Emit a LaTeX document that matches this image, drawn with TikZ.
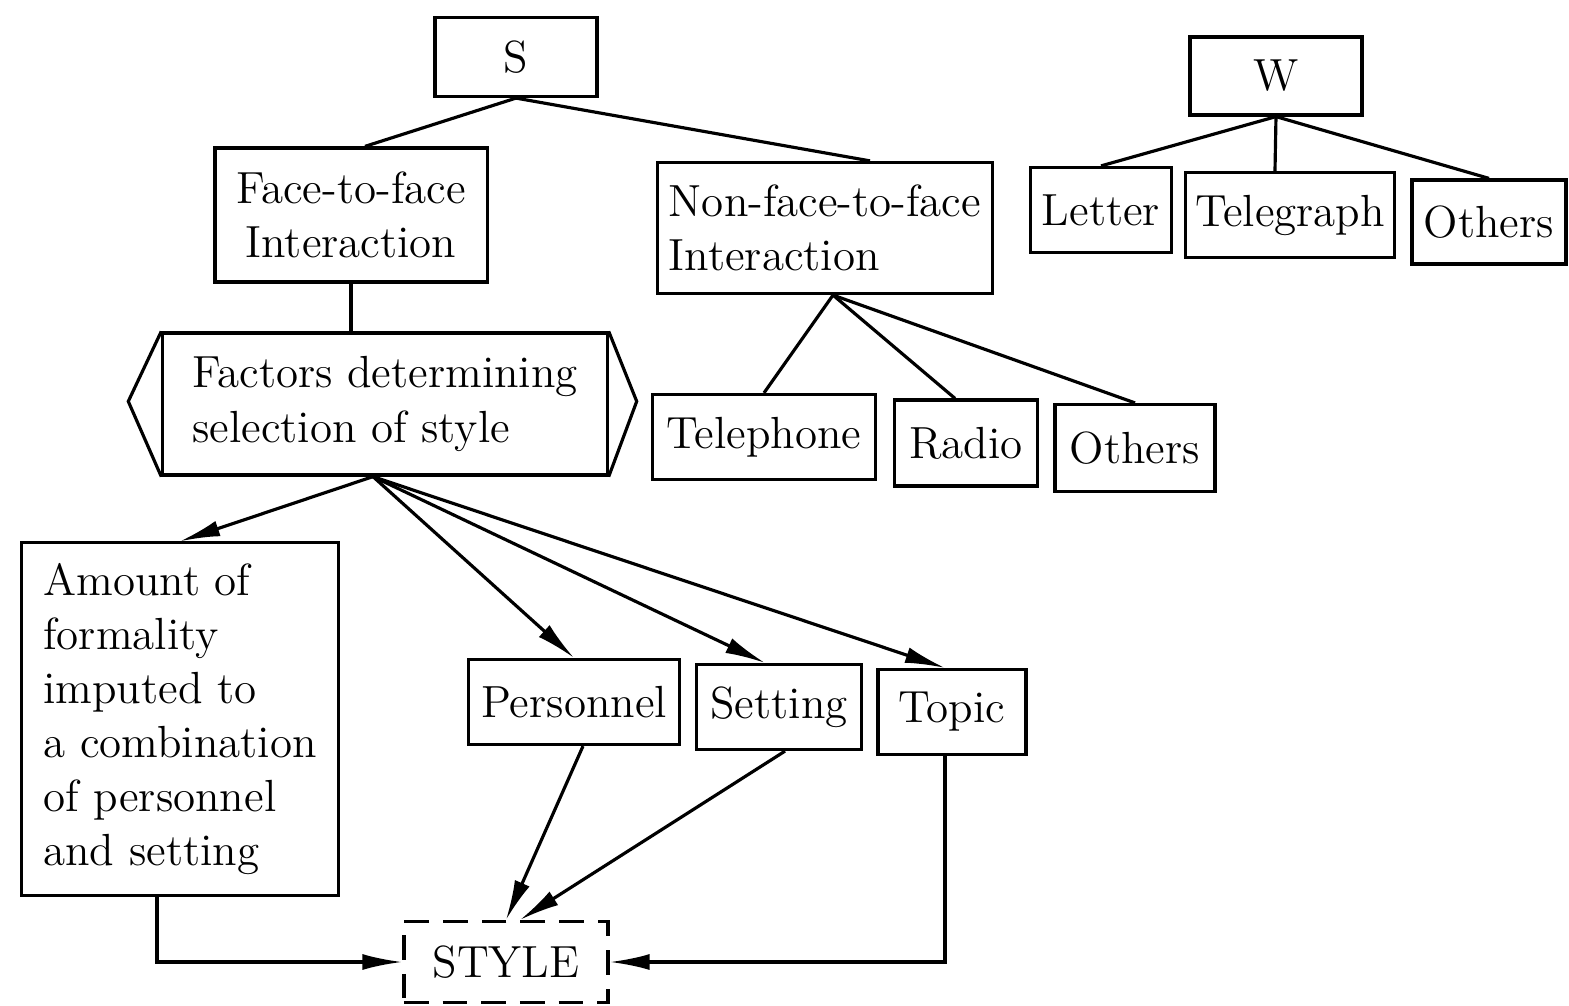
\documentclass[tikz,border=0pt]{standalone}
\usetikzlibrary{arrows.meta}
\begin{document}
\begin{tikzpicture}[x=0.01cm, y=-0.01cm, line width=0.9pt,
  >={Latex[length=4mm, width=1.6mm]},
  font=\fontsize{12.8}{15.4}\selectfont,
  box/.style={rectangle, draw=black, line width=0.9pt, inner sep=0}]
\useasboundingbox (0,0) rectangle (1569,1006);
% SPEECH
  \node[box,
    minimum height = 0.79cm,
    minimum width = 1.62cm] (s) at (516, 57) {S};
  \node[box, align=center,
    minimum height = 1.34cm,
    minimum width = 2.72cm] (face) at (351, 215) {Face-to-face\\Interaction};
  \node[box, align=left,
    minimum height = 1.31cm,
    minimum width = 3.35cm] (nonface) at (825, 228) {Non-face-to-face\\Interaction};

  \draw (s.south) -- ([xshift=0.14cm]face.north);
  \draw (s.south) -- ([xshift=0.45cm]nonface.north);

  \node[box,
    minimum height = 0.85cm,
    minimum width = 2.23cm] (telephone) at (764, 437) {Telephone};
  \node[box,
    minimum height = 0.86cm,
    minimum width = 1.43cm] (radio) at (966, 443) {Radio};
  \node[box,
    minimum height = 0.87cm,
    minimum width = 1.60cm] (others_nf) at (1135, 448) {Others};

  \draw ([xshift=0.08cm]nonface.south) -- (telephone.north);
  \draw ([xshift=0.08cm]nonface.south) -- ([xshift=-0.11cm]radio.north);
  \draw ([xshift=0.08cm]nonface.south) -- (others_nf.north);

% WRITING
  \node[box,
    minimum height = 0.78cm,
    minimum width = 1.72cm] (w) at (1276, 76) {W};
  \node[box,
    minimum height = 0.85cm,
    minimum width = 1.41cm] (letter) at (1101, 210) {Letter};
  \node[box,
    minimum height = 0.85cm,
    minimum width = 2.09cm] (telegraph) at (1290, 215) {Telegraph};
  \node[box,
    minimum height = 0.84cm,
    minimum width = 1.54cm] (others_w) at (1489, 222) {Others};

  \draw (w.south) -- (letter.north);
  \draw (w.south) -- ([xshift=-0.15cm]telegraph.north);
  \draw (w.south) -- (others_w.north);

% FACTORS
  \node[box, align=left,
    minimum height = 1.42cm,
    minimum width = 4.44cm] (factors) at (385, 404) {Factors determining\\selection of style};
  \draw (factors.north west) -- ++(-33, 70) -- (factors.south west);
  \draw (factors.north east) -- ++(28, 70) -- (factors.south east);

  \draw (face.south) -- (face.south |- factors.north);

  \node[box, align=left,
    minimum height = 3.52cm,
    minimum width = 3.16cm] (amount) at (180, 719) {Amount of\\formality\\imputed to\\a combination\\of personnel\\and setting};
  \node[box,
    minimum height = 0.85cm,
    minimum width = 2.11cm] (personnel) at (574, 702) {Personnel};
  \node[box,
    minimum height = 0.85cm,
    minimum width = 1.65cm] (setting) at (779, 707) {Setting};
  \node[box,
    minimum height = 0.85cm,
    minimum width = 1.48cm] (topic) at (952, 712) {Topic};

  \draw[->] ([xshift=-0.12cm]factors.south) -- (amount.north);
  \draw[->] ([xshift=-0.12cm]factors.south) -- (personnel.north);
  \draw[->] ([xshift=-0.12cm]factors.south) -- ([xshift=-0.14cm]setting.north);
  \draw[->] ([xshift=-0.12cm]factors.south) -- ([xshift=-0.07cm]topic.north);

% STYLE
  \node[box, dash pattern=on 7pt off 4pt,
    minimum height = 0.81cm,
    minimum width = 2.04cm] (style) at (506, 962) {STYLE};

  \draw[->] ([xshift=0.09cm]personnel.south) -- (style.north);
  \draw[->] ([xshift=0.06cm]setting.south) -- ([xshift=0.14cm]style.north);
  \draw[->] ([xshift=-0.23cm]amount.south) |- (style.west);
  \draw[->] ([xshift=-0.07cm]topic.south) |- (style.east);
\end{tikzpicture}
\end{document}
